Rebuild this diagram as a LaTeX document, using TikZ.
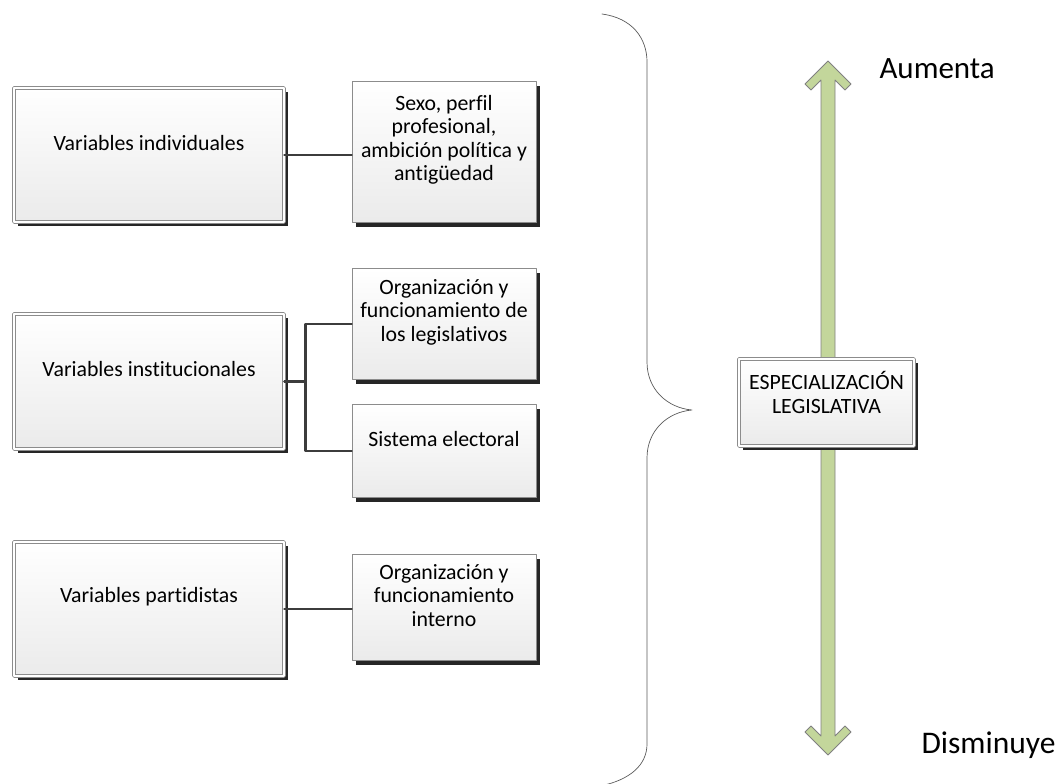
\documentclass[tikz,border=0pt]{standalone}
\usepackage{fontspec}
\setmainfont[Ligatures=CommonOff]{Carlito}
\usepackage{tikz}
\usetikzlibrary{shadows,calc}
\definecolor{ccd69b}{RGB}{195,214,155}
\definecolor{ggaaaa}{RGB}{140,140,140}
\definecolor{qqqqqq}{RGB}{60,60,60}
\definecolor{brbrbr}{RGB}{90,90,90}
\tikzset{
  varbox/.style={draw=ggaaaa, double=white, double distance=2pt, line width=0.8pt,
    top color=white, bottom color=black!8, inner sep=0pt,
    drop shadow={shadow xshift=4pt, shadow yshift=-4pt, fill=black!85, opacity=1}},
  subbox/.style={draw=ggaaaa, line width=0.9pt, top color=white, bottom color=black!8,
    inner sep=0pt, minimum width=184pt,
    drop shadow={shadow xshift=4pt, shadow yshift=-4pt, fill=black!85, opacity=1}},
  boxtext/.style={yshift=12pt, align=center, font=\fontsize{21.8}{23.5}\selectfont},
  conn/.style={draw=qqqqqq, line width=2.6pt},
}

\begin{document}
\begin{tikzpicture}[line cap=round,line join=round,x=1pt,y=-1pt]
  \useasboundingbox (0,0) rectangle (1057,784);
  \node[varbox, minimum width=270pt, minimum height=134pt,
        label={[boxtext]center:Variables individuales}] (vind) at (149,155) {};
  \node[varbox, minimum width=270pt, minimum height=135pt,
        label={[boxtext]center:Variables institucionales}] (vinst) at (149,381.5) {};
  \node[varbox, minimum width=270pt, minimum height=134pt,
        label={[boxtext]center:Variables partidistas}] (vpart) at (149,609) {};
  \node[subbox, minimum height=141pt,
        label={[boxtext]center:{Sexo, perfil\\profesional,\\ambición política y\\antigüedad}}] (sexo) at (444,152) {};
  \node[subbox, minimum height=111pt,
        label={[boxtext]center:{Organización y\\funcionamiento de\\los legislativos}}] (orgleg) at (444,324) {};
  \node[subbox, minimum height=93pt,
        label={[boxtext]center:Sistema electoral}] (sist) at (444,451) {};
  \node[subbox, minimum height=106pt,
        label={[boxtext]center:{Organización y\\funcionamiento\\interno}}] (orgint) at (444,607.5) {};
  \draw[conn] (vind.east) -- (vind.east -| sexo.west);
  \draw[conn] (vinst.east) -- ++(21,0) coordinate (jn);
  \draw[conn] (orgleg.west) -| (jn) |- (sist.west);
  \draw[conn] (vpart.east) -- (vpart.east -| orgint.west);
  \draw[brbrbr, line width=0.7pt] (602,14) .. controls (632,18) and (647,38) .. (647,62)
    -- (647,362) .. controls (647,390) and (668,408) .. (692,410)
    .. controls (668,412) and (647,430) .. (647,458) -- (647,744)
    .. controls (647,765) and (630,780) .. (600,786);
  \filldraw[fill=ccd69b, draw=gray, line width=0.8pt] (828,61) -- (851,84) -- (845,90) -- (835,80)
    -- (835,736) -- (845,726) -- (851,732) -- (828,755) -- (805,732) -- (811,726)
    -- (821,736) -- (821,80) -- (811,90) -- (805,84) -- cycle;
  \node[varbox, minimum width=175pt, minimum height=87pt,
        label={[boxtext, yshift=-2pt]center:{ESPECIALIZACIÓN\\LEGISLATIVA}}] (espec) at (826.5,402.5) {};
  \node[anchor=base west, font=\fontsize{31}{35}\selectfont] (aum) at (876,78) {Aumenta};
  \node[anchor=base west, font=\fontsize{31.5}{35}\selectfont] (dism) at (918,753) {Disminuye};
\end{tikzpicture}
\end{document}
